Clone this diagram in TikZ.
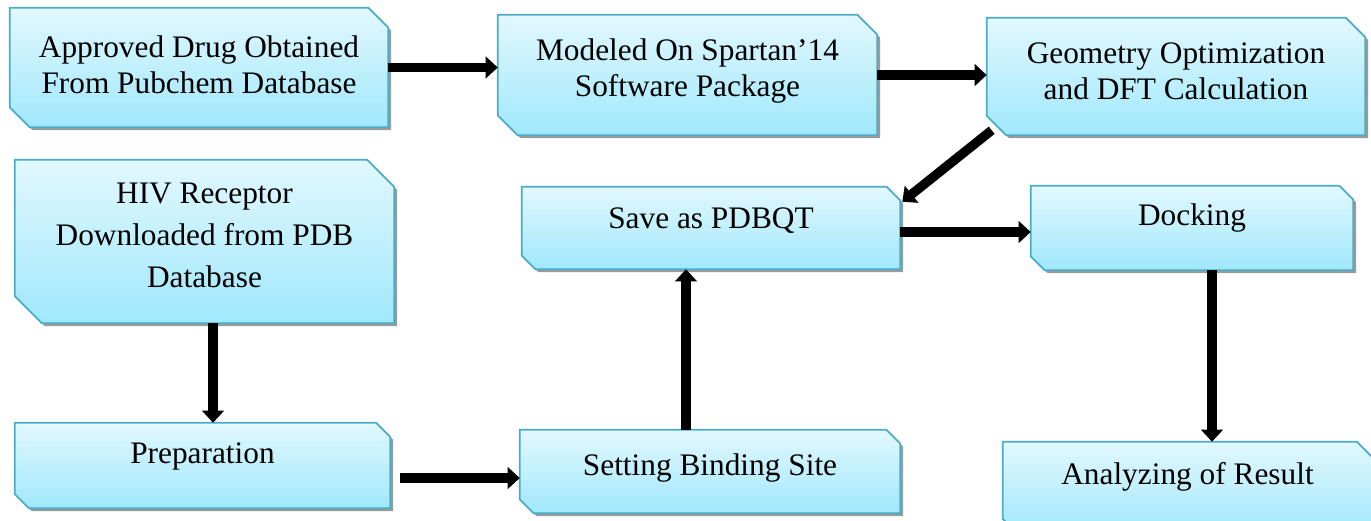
\documentclass[tikz,border=0pt]{standalone}
\usepackage{fontspec}
\setmainfont{Liberation Serif}
\usetikzlibrary{calc,shadows,backgrounds,arrows.meta}
\definecolor{bordc}{RGB}{75,172,198}
\definecolor{topc}{RGB}{226,248,254}
\definecolor{botc}{RGB}{160,232,252}
\definecolor{shadc}{RGB}{155,155,155}
\tikzset{
  box/.style={inner sep=0pt, align=center, font=\fontsize{23.5}{27}\selectfont},
  snipfill/.style={draw=bordc, line width=1.3pt, top color=topc, bottom color=botc,
    drop shadow={shadow xshift=2.2pt, shadow yshift=-2.2pt, fill=shadc, opacity=1}},
  arr/.style={line width=7pt, -{Triangle[width=16pt,length=9pt]}},
}
\newcommand\snipshape[2]{%
  \path[snipfill] (#1.north west) -- ($(#1.north east)+(-#2,0pt)$) -- ($(#1.north east)+(0pt,-#2)$)
    -- (#1.south east) -- ($(#1.south west)+(#2,0pt)$) -- ($(#1.south west)+(0pt,#2)$) -- cycle;}
\begin{document}
\begin{tikzpicture}[x=0.75pt,y=-0.75pt]
\useasboundingbox (0,0) rectangle (1371,521);
\clip (0,0) rectangle (1371,521);
\node[box, minimum width=283.5pt, minimum height=89.25pt, text depth=5pt] (app) at (199,67.5) {Approved Drug Obtained\\From Pubchem Database};
\node[box, minimum width=284.25pt, minimum height=90pt, text depth=11pt] (mod) at (687.5,75) {Modeled On Spartan’14\\Software Package};
\node[box, minimum width=283.5pt, minimum height=87.75pt, text depth=8pt] (geo) at (1176,76.5) {Geometry Optimization\\and DFT Calculation};
\node[box, minimum width=284.25pt, minimum height=122.25pt, text depth=9pt] (hiv) at (204.5,241.5) {HIV Receptor\\[4.5pt]Downloaded from PDB\\[4.5pt]Database};
\node[box, minimum width=283.5pt, minimum height=61.5pt, text depth=15pt] (save) at (711,228) {Save as PDBQT};
\node[box, minimum width=241.5pt, minimum height=63pt, text depth=20pt] (dock) at (1192,228) {Docking};
\node[box, minimum width=281.25pt, minimum height=63.75pt, text depth=19pt] (prep) at (202.5,465.5) {Preparation};
\node[box, minimum width=285pt, minimum height=62.25pt, text depth=10pt] (set) at (710,471.5) {Setting Binding Site};
\node[box, minimum width=276.75pt, minimum height=69pt, text depth=22pt] (ana) at (1187.5,488) {Analyzing of Result};
\begin{scope}[on background layer]
\snipshape{app}{14.9pt}
\snipshape{mod}{15pt}
\snipshape{geo}{14.6pt}
\snipshape{hiv}{20.4pt}
\snipshape{save}{10.2pt}
\snipshape{dock}{10.5pt}
\snipshape{prep}{10.6pt}
\snipshape{set}{10.4pt}
\snipshape{ana}{11.5pt}
\end{scope}
\draw[arr] (app.east) -- (app.east -| mod.west);
\draw[arr] (mod.east) -- (mod.east -| geo.west);
\draw[arr] ($(geo.south west)+(3.75pt,3.75pt)$) -- ($(save.north east)+(1.5pt,-11.25pt)$);
\coordinate (s0) at ($(save.east)+(0pt,-3pt)$);
\draw[arr] (s0) -- (s0 -| dock.west);
\coordinate (h0) at ($(hiv.south)+(6.4pt,0pt)$);
\draw[arr] (h0) -- (h0 |- prep.north);
\coordinate (p0) at ($(prep.east)+(7.5pt,-9.4pt)$);
\draw[arr] (p0) -- (p0 -| set.west);
\coordinate (t0) at ($(set.north)+(-18pt,0pt)$);
\draw[arr] (t0) -- (t0 |- save.south);
\coordinate (d0) at ($(dock.south)+(15pt,0pt)$);
\draw[arr] (d0) -- (d0 |- ana.north);
\end{tikzpicture}
\end{document}
